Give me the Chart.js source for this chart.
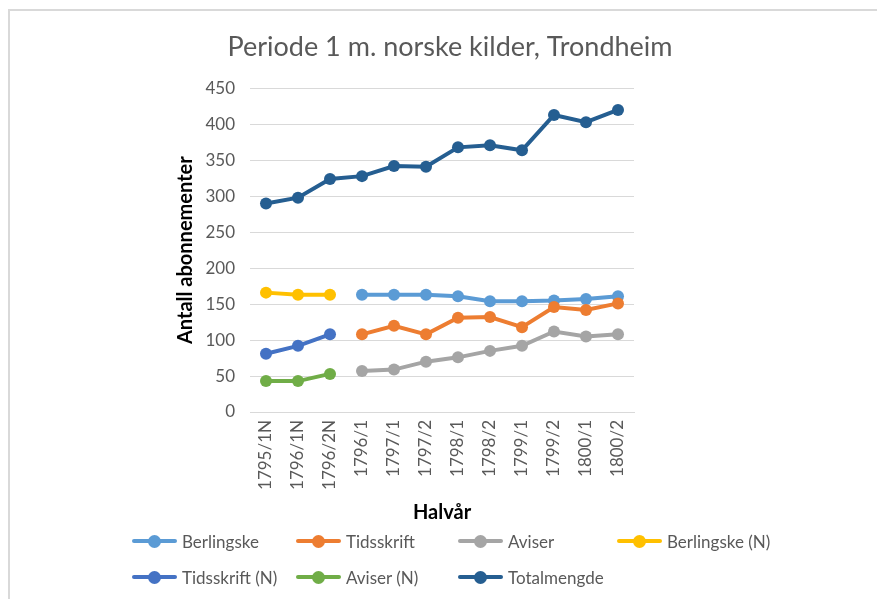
<!DOCTYPE html>
<html>
<head>
<meta charset="utf-8">
<script src="https://cdn.jsdelivr.net/npm/chart.js@4.4.7/dist/chart.umd.min.js"></script>
<style>
  html, body { margin: 0; padding: 0; overflow: hidden; background: #fff; }
  #wrap { position: relative; width: 877px; height: 599px; overflow: hidden; font-family: Lato, sans-serif; }
  #frame { position: absolute; left: 8px; top: 9px; width: 900px; height: 620px; border: 2px solid #d9d9d9; }
  #chart { position: absolute; left: 0; top: 0; }
  .item { position: absolute; height: 20px; display: flex; align-items: center; font-size: 17px; color: #595959; white-space: nowrap; }
  .swatch { position: relative; width: 45px; height: 20px; margin-right: 5px; }
  .swatch .ln { position: absolute; left: 0; top: 8px; width: 45px; height: 4px; border-radius: 2px; }
  .swatch .dot { position: absolute; left: 16px; top: 3.5px; width: 13px; height: 13px; border-radius: 50%; }
</style>
</head>
<body>
<div id="wrap">
  <div id="frame"></div>
  <canvas id="chart" width="877" height="599"></canvas>
  <div id="legend"></div>
</div>
<script>
const categories = ['1795/1N', '1796/1N', '1796/2N', '1796/1', '1797/1', '1797/2', '1798/1', '1798/2', '1799/1', '1799/2', '1800/1', '1800/2'];

const seriesNames = ['Berlingske', 'Tidsskrift', 'Aviser', 'Berlingske (N)', 'Tidsskrift (N)', 'Aviser (N)', 'Totalmengde'];
const seriesColors = ['#5b9bd5', '#ed7d31', '#a5a5a5', '#ffc000', '#4472c4', '#70ad47', '#255e91'];

const berlingske = [null, null, null, 163, 163, 163, 161, 154, 154, 155, 157, 161];
const tidsskrift = [null, null, null, 108, 120, 108, 131, 132, 118, 146, 142, 151];
const aviser = [null, null, null, 57, 59, 70, 76, 85, 92, 112, 105, 108];
const berlingskeN = [166, 163, 163, null, null, null, null, null, null, null, null, null];
const tidsskriftN = [81, 92, 108, null, null, null, null, null, null, null, null, null];
const aviserN = [43, 43, 53, null, null, null, null, null, null, null, null, null];
const totalmengde = [290, 298, 324, 328, 342, 341, 368, 371, 364, 413, 403, 420];

const yTicks = [0, 50, 100, 150, 200, 250, 300, 350, 400, 450];

const seriesData = [berlingske, tidsskrift, aviser, berlingskeN, tidsskriftN, aviserN, totalmengde];

const datasets = seriesNames.map((name, i) => ({
  label: name,
  data: seriesData[i],
  borderColor: seriesColors[i],
  backgroundColor: seriesColors[i],
  borderWidth: 4,
  pointRadius: 6,
  pointBorderWidth: 0,
  pointHoverRadius: 6,
  tension: 0,
  order: -i
}));

const font = 'Lato';

new Chart(document.getElementById('chart'), {
  type: 'line',
  data: { labels: categories, datasets: datasets },
  options: {
    responsive: false,
    animation: false,
    layout: { padding: { left: 43, right: 20, top: 31, bottom: 71 } },
    plugins: {
      legend: { display: false },
      tooltip: { enabled: false },
      title: {
        display: true,
        text: 'Periode 1 m. norske kilder, Trondheim',
        color: '#595959',
        font: { family: font, size: 27, weight: 'normal', lineHeight: 1.2 },
        padding: { top: 0, bottom: 25 }
      }
    },
    scales: {
      x: {
        offset: true,
        grid: { display: false, drawTicks: false },
        border: { display: true, color: '#d9d9d9', width: 1 },
        ticks: {
          color: '#595959',
          font: { family: font, size: 17 },
          minRotation: 90,
          maxRotation: 90,
          padding: 8,
          autoSkip: false
        },
        title: {
          display: true,
          text: 'Halvår',
          color: '#000',
          font: { family: font, size: 20, weight: 'bold', lineHeight: 1.2 },
          padding: { top: 0, bottom: 3 }
        },
        afterFit: s => { s.height = 116; }
      },
      y: {
        min: 0,
        max: 450,
        afterBuildTicks: s => { s.ticks = yTicks.map(v => ({ value: v })); },
        grid: { color: '#d9d9d9', lineWidth: 1, drawTicks: false },
        border: { display: false },
        ticks: {
          color: '#595959',
          font: { family: font, size: 17 },
          padding: 15
        },
        title: {
          display: true,
          text: 'Antall abonnementer',
          color: '#000',
          font: { family: font, size: 20, weight: 'bold', lineHeight: 1.2 },
          padding: { top: 131, bottom: 0 }
        },
        afterFit: s => { s.width = 207; }
      },
      yRight: {
        position: 'right',
        display: true,
        grid: { display: false, drawTicks: false },
        border: { display: false },
        ticks: { display: false },
        afterFit: s => { s.width = 223; }
      }
    }
  }
});

// legend laid out in columns like the original
const legend = document.getElementById('legend');
const colX = [132, 296, 458, 617];
const rowY = [541, 577];
seriesNames.forEach((name, i) => {
  const item = document.createElement('div');
  item.className = 'item';
  item.style.left = colX[i % 4] + 'px';
  item.style.top = (rowY[Math.floor(i / 4)] - 10) + 'px';
  item.innerHTML = '<span class="swatch"><span class="ln" style="background:' + seriesColors[i] +
    '"></span><span class="dot" style="background:' + seriesColors[i] + '"></span></span>' + name;
  legend.appendChild(item);
});
</script>
</body>
</html>
